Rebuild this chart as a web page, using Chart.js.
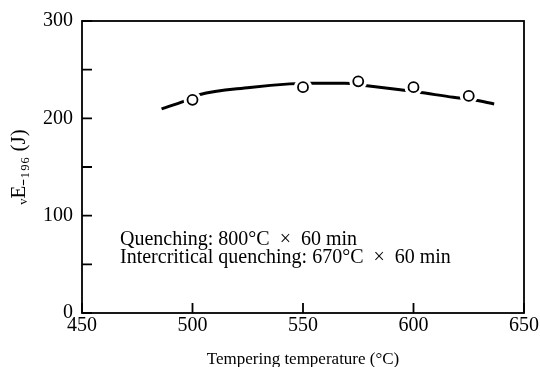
<!DOCTYPE html>
<html>
<head>
<meta charset="utf-8">
<script src="https://cdn.jsdelivr.net/npm/chart.js@4.4.0/dist/chart.umd.min.js"></script>
<style>
html,body{margin:0;padding:0;background:#fff;}
#wrap{width:540px;height:367px;position:relative;}
</style>
</head>
<body>
<div id="wrap"><canvas id="c" width="540" height="367"></canvas></div>
<script>
// Measured points (tempering temperature in °C, absorbed energy in J)
const temps = [500, 550, 575, 600, 625];
const energy = [219, 232, 238, 232, 223];
// Hand-drawn trend curve
const curveTemps = [486, 496, 503, 526, 544, 554, 562, 569, 578, 594, 602, 618, 627, 636.5];
const curveEnergy = [209.7, 217.5, 224.2, 231.7, 235.4, 236.1, 236.1, 236.1, 233.7, 229.3, 227.0, 221.6, 219.1, 214.8];
// Axis ticks
const xTicks = [450, 500, 550, 600, 650];
const yTicks = [0, 50, 100, 150, 200, 250, 300];
const yLabelled = [0, 100, 200, 300];
const xTitle = 'Tempering temperature (°C)';
const yTitle = 'ᵥE₋₁₉₆ (J)';
const noteLines = ['Quenching: 800°C  ×  60 min', 'Intercritical quenching: 670°C  ×  60 min'];

const FONT = '"Liberation Serif", "Times New Roman", serif';

const pts = temps.map((t, i) => ({x: t, y: energy[i]}));
const curve = curveTemps.map((t, i) => ({x: t, y: curveEnergy[i]}));

const framePlugin = {
  id: 'frame',
  afterDatasetsDraw(chart) {
    const {ctx, chartArea: a, scales} = chart;
    ctx.save();
    ctx.strokeStyle = '#000';
    ctx.lineWidth = 1.8;
    ctx.strokeRect(a.left, a.top, a.right - a.left, a.bottom - a.top);
    // inward ticks
    ctx.beginPath();
    yTicks.forEach(v => {
      const y = scales.y.getPixelForValue(v);
      ctx.moveTo(a.left, y);
      ctx.lineTo(a.left + 10, y);
    });
    xTicks.forEach(v => {
      const x = scales.x.getPixelForValue(v);
      ctx.moveTo(x, a.bottom);
      ctx.lineTo(x, a.bottom - 10);
    });
    ctx.stroke();
    // annotation
    ctx.fillStyle = '#000';
    ctx.font = '20px ' + FONT;
    ctx.textBaseline = 'alphabetic';
    ctx.textAlign = 'left';
    ctx.fillText(noteLines[0], a.left + 38, a.top + 224);
    ctx.fillText(noteLines[1], a.left + 38, a.top + 241.5);
    ctx.restore();
  }
};

new Chart(document.getElementById('c'), {
  type: 'scatter',
  data: {
    datasets: [
      {
        data: pts,
        order: 0,
        showLine: false,
        pointRadius: 5,
        pointBorderWidth: 1.8,
        pointBorderColor: '#000',
        pointBackgroundColor: '#fff'
      },
      {
        data: pts,
        order: 1,
        showLine: false,
        pointRadius: 9,
        pointBorderWidth: 0,
        pointBorderColor: '#fff',
        pointBackgroundColor: '#fff'
      },
      {
        data: curve,
        order: 2,
        showLine: true,
        pointRadius: 0,
        borderColor: '#000',
        borderWidth: 3,
        tension: 0.4,
        cubicInterpolationMode: 'monotone',
        fill: false
      }
    ]
  },
  options: {
    responsive: false,
    animation: false,
    events: [],
    layout: {padding: {left: 0, right: 16, top: 17, bottom: 0}},
    plugins: {legend: {display: false}, tooltip: {enabled: false}},
    scales: {
      x: {
        type: 'linear',
        min: 450, max: 650,
        afterBuildTicks(s) { s.ticks = xTicks.map(v => ({value: v})); },
        afterFit(s) { s.height = 54; },
        grid: {display: false, drawTicks: false},
        border: {display: false},
        ticks: {color: '#000', font: {family: FONT, size: 20}, padding: 1, maxRotation: 0},
        title: {display: true, text: xTitle, color: '#000', font: {family: FONT, size: 17}, padding: {top: 1, bottom: -3}}
      },
      y: {
        min: 0, max: 300,
        afterBuildTicks(s) { s.ticks = yTicks.map(v => ({value: v})); },
        afterFit(s) { s.width = 82; },
        grid: {display: false, drawTicks: false},
        border: {display: false},
        ticks: {
          color: '#000', font: {family: FONT, size: 20}, padding: 9,
          callback: v => (yLabelled.includes(v) ? String(v) : '')
        },
        title: {display: true, text: yTitle, color: '#000', font: {family: FONT, size: 21}, padding: {top: 7, bottom: 0}}
      }
    }
  },
  plugins: [framePlugin]
});
</script>
</body>
</html>
